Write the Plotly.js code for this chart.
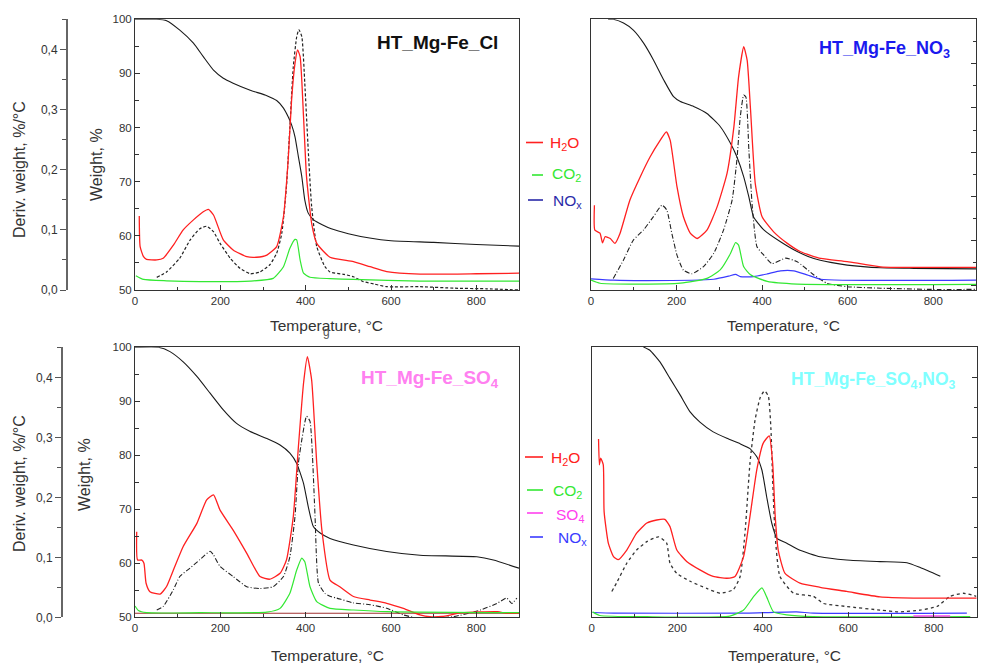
<!DOCTYPE html>
<html><head><meta charset="utf-8">
<script src="https://cdn.plot.ly/plotly-3.0.1.min.js"></script>
<style>html,body{margin:0;padding:0;background:#fff}#chart{width:982px;height:663px}</style>
</head><body><div id="chart"></div>
<script>
// ===== Panel 1: HT_Mg-Fe_Cl =====
const p1_tg_T = [0, 50, 74, 105, 137, 160, 184, 207, 230, 270, 309, 332, 348, 359, 367, 375, 383, 391, 398, 406, 418, 440, 460, 500, 550, 600, 700, 800, 900];
const p1_tg = [100, 100, 99.75, 98.0, 95.6, 93.1, 90.6, 89.1, 88.2, 86.9, 85.9, 85.0, 83.6, 82.0, 80.5, 78.3, 74.6, 70.9, 66.6, 64.2, 63.0, 62.0, 61.3, 60.4, 59.6, 59.1, 58.8, 58.4, 58.1];
const p1_dtg_T = [51, 74, 105, 129, 152, 168, 184, 199, 223, 246, 270, 293, 316, 332, 344, 355, 363, 371, 379, 384, 391, 398, 406, 414, 426, 445, 457, 490, 512, 535, 560, 590, 668, 750, 824, 900];
const p1_dtg = [0.021, 0.030, 0.053, 0.083, 0.102, 0.106, 0.097, 0.078, 0.053, 0.036, 0.027, 0.030, 0.042, 0.061, 0.094, 0.172, 0.271, 0.371, 0.421, 0.433, 0.421, 0.343, 0.233, 0.139, 0.072, 0.039, 0.030, 0.026, 0.022, 0.014, 0.010, 0.0055, 0.0055, 0.003, 0.002, 0.0];
const p1_h2o_T = [10, 12, 20, 27, 51, 66, 90, 113, 137, 160, 172, 184, 207, 230, 262, 285, 309, 332, 348, 359, 367, 375, 381, 387, 395, 402, 414, 426, 457, 512, 551, 590, 668, 800, 900];
const p1_h2o = [27.3, 16.0, 12.3, 11.3, 11.1, 11.7, 16.6, 22.2, 25.9, 28.9, 29.8, 27.7, 18.5, 14.8, 12.3, 12.1, 12.9, 16.0, 27.1, 48.0, 70.2, 83.7, 88.7, 86.2, 64.0, 41.9, 24.6, 17.2, 12.1, 10.5, 8.6, 6.8, 5.9, 6.0, 6.2];
const p1_co2_T = [2, 20, 74, 152, 270, 324, 348, 363, 375, 379, 387, 395, 410, 457, 512, 668, 900];
const p1_co2 = [5.3, 3.9, 3.4, 3.1, 3.3, 4.3, 8.6, 15.4, 18.7, 18.5, 11.1, 6.2, 4.7, 4.2, 3.9, 3.3, 3.3];

// ===== Panel 2: HT_Mg-Fe_NO3 =====
const p2_tg_T = [40, 52, 76, 99, 123, 146, 170, 193, 209, 240, 271, 302, 326, 341, 357, 369, 380, 404, 443, 482, 521, 560, 599, 677, 755, 900];
const p2_tg = [100, 100, 99.3, 98.0, 95.6, 92.5, 88.8, 85.7, 84.8, 83.9, 82.6, 80.2, 77.1, 74.6, 70.9, 67.2, 63.5, 61.1, 58.9, 57.1, 55.8, 55.1, 54.6, 54.1, 54.0, 53.9];
const p2_dtg_T = [52, 76, 99, 123, 146, 166, 177, 189, 201, 216, 236, 263, 287, 310, 330, 341, 349, 357, 362, 369, 377, 388, 404, 423, 455, 482, 521, 552, 599, 677, 795, 900];
const p2_dtg = [0.019, 0.050, 0.083, 0.100, 0.122, 0.141, 0.133, 0.094, 0.058, 0.033, 0.027, 0.039, 0.061, 0.100, 0.150, 0.216, 0.288, 0.324, 0.321, 0.233, 0.139, 0.072, 0.058, 0.044, 0.053, 0.047, 0.025, 0.011, 0.0055, 0.003, 0.001, 0.001];
const p2_h2o_T = [8, 9, 21, 27, 33, 45, 56, 68, 91, 115, 138, 162, 176, 185, 201, 216, 232, 248, 271, 295, 318, 334, 345, 357, 365, 373, 384, 400, 427, 459, 490, 537, 599, 677, 900];
const p2_h2o = [1.80, 1.24, 1.17, 0.95, 1.09, 1.05, 0.94, 1.17, 1.92, 2.44, 2.89, 3.27, 3.46, 3.27, 2.22, 1.54, 1.17, 1.05, 1.24, 1.77, 2.52, 3.57, 4.70, 5.38, 5.08, 3.95, 2.29, 1.54, 1.20, 0.94, 0.75, 0.60, 0.53, 0.41, 0.40];
const p2_co2_T = [0, 21, 91, 209, 271, 302, 326, 338, 345, 357, 373, 412, 482, 900];
const p2_co2 = [0.11, 0.04, 0.02, 0.04, 0.15, 0.34, 0.71, 0.96, 0.90, 0.41, 0.23, 0.08, 0.02, 0.015];
const p2_nox_T = [0, 52, 130, 287, 322, 338, 349, 380, 412, 443, 474, 505, 537, 900];
const p2_nox = [0.14, 0.11, 0.10, 0.13, 0.20, 0.24, 0.19, 0.19, 0.25, 0.32, 0.32, 0.23, 0.13, 0.11];

// ===== Panel 3: HT_Mg-Fe_SO4 =====
const p3_tg_T = [0, 55, 82, 113, 145, 176, 207, 238, 270, 309, 340, 363, 379, 395, 406, 418, 434, 457, 512, 590, 668, 801, 840, 900];
const p3_tg = [100, 100, 99.2, 97.3, 94.6, 91.5, 88.4, 85.9, 84.4, 83.1, 81.9, 80.4, 78.5, 74.8, 70.5, 66.8, 65.6, 64.6, 63.4, 62.2, 61.5, 61.2, 60.6, 59.1];
const p3_dtg_T = [51, 66, 90, 105, 129, 152, 176, 184, 199, 230, 262, 293, 324, 348, 363, 375, 383, 391, 402, 410, 416, 422, 430, 445, 457, 473, 512, 551, 590, 629, 668, 746, 809, 848, 871, 883, 895];
const p3_dtg = [0.012, 0.018, 0.046, 0.068, 0.082, 0.096, 0.110, 0.104, 0.085, 0.068, 0.051, 0.048, 0.051, 0.068, 0.101, 0.168, 0.257, 0.296, 0.335, 0.327, 0.268, 0.168, 0.057, 0.040, 0.035, 0.032, 0.024, 0.021, 0.015, 0.004, -0.002, 0.001, 0.012, 0.023, 0.032, 0.023, 0.032];
const p3_h2o_T = [4, 6, 16, 21, 26, 35, 59, 74, 90, 113, 145, 168, 184, 199, 230, 262, 293, 316, 340, 355, 371, 383, 395, 404, 414, 426, 438, 457, 480, 512, 551, 590, 629, 668, 691, 720, 766, 850, 870, 900];
const p3_h2o = [31.7, 21.2, 21.2, 20.0, 12.6, 9.5, 8.6, 11.4, 17.5, 26.2, 34.8, 43.5, 45.3, 39.8, 32.3, 23.7, 15.1, 14.1, 16.3, 21.2, 37.3, 63.2, 86.7, 96.5, 87.9, 57.0, 32.3, 13.8, 11.3, 7.7, 6.4, 5.2, 3.3, 0.9, 0.2, 0.3, 1.7, 2.1, 1.5, 1.5];
const p3_co2_T = [0, 8, 27, 152, 309, 340, 363, 379, 391, 398, 410, 426, 457, 512, 590, 900];
const p3_co2 = [4.2, 2.5, 1.7, 1.7, 1.9, 3.3, 8.9, 17.5, 21.9, 20.6, 11.4, 5.8, 3.3, 2.7, 2.1, 1.7];
const p3_base_T = [0, 900];
const p3_base = [1.5, 1.5];

// ===== Panel 4: HT_Mg-Fe_SO4,NO3 =====
const p4_tg_T = [121, 136, 160, 183, 207, 230, 253, 284, 316, 347, 370, 386, 398, 409, 421, 433, 456, 487, 534, 596, 674, 737, 768, 815];
const p4_tg = [100, 99.4, 97.2, 94.2, 91.1, 88.0, 86.1, 84.3, 83.1, 82.1, 81.2, 79.7, 77.2, 72.3, 67.4, 64.6, 63.7, 62.4, 61.2, 60.6, 60.3, 60.1, 59.2, 57.6];
const p4_dtg_T = [47, 58, 82, 105, 129, 156, 175, 183, 199, 230, 269, 300, 331, 347, 359, 370, 382, 394, 404, 413, 419, 423, 429, 440, 472, 518, 542, 596, 674, 721, 768, 807, 838, 869, 899];
const p4_dtg = [0.043, 0.057, 0.090, 0.112, 0.126, 0.134, 0.124, 0.090, 0.073, 0.060, 0.048, 0.040, 0.046, 0.068, 0.146, 0.257, 0.329, 0.366, 0.377, 0.368, 0.313, 0.229, 0.135, 0.068, 0.040, 0.035, 0.023, 0.018, 0.012, 0.009, 0.012, 0.018, 0.035, 0.040, 0.035];
const p4_h2o_T = [16, 18, 21, 27, 29, 39, 51, 62, 82, 105, 129, 152, 171, 183, 199, 222, 253, 284, 316, 335, 355, 370, 386, 401, 415, 423, 429, 436, 452, 487, 534, 596, 674, 752, 830, 900];
const p4_h2o = [2.97, 2.54, 2.65, 2.54, 1.76, 1.23, 1.01, 0.96, 1.12, 1.40, 1.57, 1.62, 1.63, 1.51, 1.12, 0.93, 0.79, 0.68, 0.65, 0.68, 1.01, 1.68, 2.46, 2.90, 3.02, 2.57, 1.68, 1.12, 0.73, 0.57, 0.50, 0.43, 0.34, 0.32, 0.32, 0.32];
const p4_co2_T = [2, 19, 129, 323, 355, 378, 398, 409, 425, 456, 518, 885];
const p4_co2 = [0.09, 0.03, 0.01, 0.02, 0.12, 0.34, 0.49, 0.34, 0.09, 0.04, 0.01, 0.01];
const p4_nox_T = [2, 51, 362, 479, 518, 877];
const p4_nox = [0.08, 0.07, 0.07, 0.09, 0.07, 0.07];
const p4_so4_T = [752, 838];
const p4_so4 = [0.02, 0.02];

// ===== Text =====
const panelTitles = ['<b>HT_Mg-Fe_Cl</b>', '<b>HT_Mg-Fe_NO<sub>3</sub></b>', '<b>HT_Mg-Fe_SO<sub>4</sub></b>', '<b>HT_Mg-Fe_SO<sub>4</sub>,NO<sub>3</sub></b>'];
const xTitle = 'Temperature, °C';
const derivTitle = 'Deriv. weight, %/°C';
const weightTitle = 'Weight, %';
const legendLabels = {h2o: 'H<sub>2</sub>O', co2: 'CO<sub>2</sub>', so4: 'SO<sub>4</sub>', nox: 'NO<sub>x</sub>'};

// ===== Layout helpers =====
const W = 982, H = 663;
const px = x => x / W, py = y => 1 - y / H;
const FONT = 'Arial, "Liberation Sans", sans-serif';
const RED = '#ff2020', GREEN = '#33e833', NAVY = '#2a2aa8', BLUE = '#3a3aff', MAG = '#ff40ee';

function ln(color, width, dash) { return {color: color, width: width, dash: dash || 'solid', shape: 'spline', smoothing: 0.5}; }
function tr(x, y, xa, ya, line) { return {x: x, y: y, xaxis: xa, yaxis: ya, type: 'scatter', mode: 'lines', line: line, hoverinfo: 'skip', showlegend: false}; }

const traces = [
  tr(p1_h2o_T, p1_h2o, 'x', 'y9', ln(RED, 1.3)),
  tr(p1_co2_T, p1_co2, 'x', 'y9', ln(GREEN, 1.2)),
  tr(p1_dtg_T, p1_dtg, 'x', 'y5', ln('#222', 1.2, '3px,2px')),
  tr(p1_tg_T, p1_tg, 'x', 'y', ln('#1a1a1a', 1.1)),
  tr(p2_nox_T, p2_nox, 'x2', 'y10', ln(BLUE, 1.2)),
  tr(p2_co2_T, p2_co2, 'x2', 'y10', ln(GREEN, 1.2)),
  tr(p2_h2o_T, p2_h2o, 'x2', 'y10', ln(RED, 1.3)),
  tr(p2_dtg_T, p2_dtg, 'x2', 'y6', ln('#222', 1.1, '5px,2px,1px,2px')),
  tr(p2_tg_T, p2_tg, 'x2', 'y2', ln('#1a1a1a', 1.1)),
  tr(p3_base_T, p3_base, 'x3', 'y11', ln('#a03030', 1.1)),
  tr(p3_h2o_T, p3_h2o, 'x3', 'y11', ln(RED, 1.3)),
  tr(p3_co2_T, p3_co2, 'x3', 'y11', ln(GREEN, 1.2)),
  tr(p3_dtg_T, p3_dtg, 'x3', 'y7', ln('#222', 1.1, '5px,2px,1px,2px')),
  tr(p3_tg_T, p3_tg, 'x3', 'y3', ln('#1a1a1a', 1.1)),
  tr(p4_nox_T, p4_nox, 'x4', 'y12', ln(BLUE, 1.2)),
  tr(p4_co2_T, p4_co2, 'x4', 'y12', ln(GREEN, 1.2)),
  tr(p4_so4_T, p4_so4, 'x4', 'y12', ln(MAG, 1.5)),
  tr(p4_h2o_T, p4_h2o, 'x4', 'y12', ln(RED, 1.3)),
  tr(p4_dtg_T, p4_dtg, 'x4', 'y8', ln('#333', 1.3, '3px,3px')),
  tr(p4_tg_T, p4_tg, 'x4', 'y4', ln('#1a1a1a', 1.1))
];

function xax(l, r, anchor) {
  return {domain: [px(l), px(r)], anchor: anchor, range: [0, 900], tick0: 0, dtick: 200,
    ticks: 'inside', ticklen: 5, tickcolor: '#333', showline: true, linecolor: '#333', linewidth: 1,
    mirror: true, showgrid: false, zeroline: false, tickfont: {family: FONT, size: 11.5, color: '#333'},
    minor: {dtick: 100, ticks: 'inside', ticklen: 3, tickcolor: '#333'}};
}
function wax(t, b, anchor, labels) {
  return {domain: [py(b), py(t)], anchor: anchor, range: [50, 100], tick0: 50, dtick: 10,
    ticks: labels ? 'inside' : '', ticklen: 5, tickcolor: '#333', showticklabels: labels,
    showline: true, linecolor: '#333', linewidth: 1, mirror: true, showgrid: false, zeroline: false,
    tickfont: {family: FONT, size: 11.5, color: '#333'},
    minor: labels ? {dtick: 5, ticks: 'inside', ticklen: 4, tickcolor: '#333'} : {ticks: ''}};
}
function dax(over, xpos, visible) {
  return {overlaying: over, anchor: 'free', position: px(xpos), side: 'left', range: [0, 0.45],
    visible: visible, tick0: 0, dtick: 0.1, tickformat: '.1f', ticks: 'outside', ticklen: 6, tickcolor: '#555',
    showline: true, linecolor: '#666', linewidth: 1.5, showgrid: false, zeroline: false,
    tickfont: {family: FONT, size: 12, color: '#333'},
    minor: {dtick: 0.05, ticks: 'outside', ticklen: 4, tickcolor: '#555'}};
}
function max(over, anchor, range, ticks) {
  const a = {overlaying: over, anchor: anchor, side: 'right', range: range, showgrid: false, zeroline: false, showticklabels: false};
  if (ticks) {
    Object.assign(a, {tick0: 0, dtick: 1, ticks: 'inside', ticklen: 5, tickcolor: '#333', showline: false,
      minor: {dtick: 0.5, ticks: 'inside', ticklen: 3, tickcolor: '#333'}});
  } else { a.visible = false; }
  return a;
}

const annotations = [];
function ann(text, x, y, size, color, opts) {
  annotations.push(Object.assign({text: text, x: px(x), y: py(y), xref: 'paper', yref: 'paper', showarrow: false,
    xanchor: 'center', yanchor: 'middle', font: {family: FONT, size: size, color: color}}, opts || {}));
}
ann(panelTitles[0], 437, 43, 19, '#111');
ann(panelTitles[1], 817, 50, 18, '#1a1aee', {xanchor: 'left'});
ann(panelTitles[2], 359, 379, 19, '#ff80f0', {xanchor: 'left'});
ann(panelTitles[3], 789, 380, 17.5, '#80ffff', {xanchor: 'left'});
ann(xTitle, 326, 325, 15.5, '#333');
ann(xTitle, 783, 325, 15.5, '#333');
ann(xTitle, 327, 655, 15.5, '#333');
ann(xTitle, 784, 655, 15.5, '#333');
ann('g', 326, 332, 12, '#555');
ann(derivTitle, 20, 170, 16, '#333', {textangle: -90});
ann(weightTitle, 96, 165, 16, '#333', {textangle: -90});
ann(derivTitle, 19, 484, 16, '#333', {textangle: -90});
ann(weightTitle, 84, 475, 16, '#333', {textangle: -90});
const shapes = [];
function leg(key, color, x0, x1, y, ty, tx) {
  shapes.push({type: 'line', xref: 'paper', yref: 'paper', x0: px(x0), x1: px(x1), y0: py(y), y1: py(y), line: {color: color, width: 1.6}});
  ann(legendLabels[key], tx, ty, 15.5, color, {xanchor: 'left'});
}
leg('h2o', RED, 526, 543, 142.5, 143, 548);
leg('co2', GREEN, 532, 543, 175, 175, 550);
leg('nox', NAVY, 528, 543, 200, 201, 551);
leg('h2o', RED, 525, 543, 457, 458, 549);
leg('co2', GREEN, 527, 543, 490, 491, 551);
leg('so4', MAG, 527, 543, 513, 515, 554);
leg('nox', BLUE, 530, 543, 537, 538, 556);

const layout = {
  width: W, height: H, autosize: false, margin: {l: 0, r: 0, t: 0, b: 0},
  paper_bgcolor: '#fff', plot_bgcolor: 'rgba(0,0,0,0)', showlegend: false, separators: ',.',
  font: {family: FONT, color: '#333'},
  xaxis: xax(135, 519, 'y'), xaxis2: xax(591, 976, 'y2'), xaxis3: xax(135, 519, 'y3'), xaxis4: xax(591.7, 976.7, 'y4'),
  yaxis: wax(19.3, 290, 'x', true), yaxis2: wax(19.3, 290, 'x2', false),
  yaxis3: wax(347.3, 617.3, 'x3', true), yaxis4: wax(347, 617.3, 'x4', false),
  yaxis5: dax('y', 66, true), yaxis6: dax('y2', 591, false), yaxis7: dax('y3', 61, true), yaxis8: dax('y4', 592, false),
  yaxis9: max('y', 'x', [0, 100], false), yaxis10: max('y2', 'x2', [-0.113, 6.0], true),
  yaxis11: max('y3', 'x3', [0, 100], false), yaxis12: max('y4', 'x4', [0, 4.5], true),
  annotations: annotations, shapes: shapes
};
Plotly.newPlot('chart', traces, layout, {staticPlot: true, displayModeBar: false});
</script></body></html>
